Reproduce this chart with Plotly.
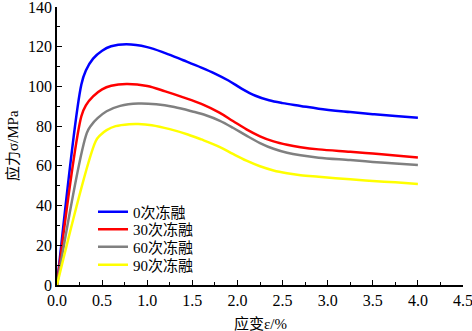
import plotly.graph_objects as go

x_blue = [0, 0.27, 0.32, 0.4, 0.5, 0.6, 0.77, 1.0, 1.2, 1.4, 1.6, 1.75, 1.9, 2.05, 2.2, 2.35, 2.5, 2.7, 2.9, 3.25, 3.5, 3.75, 4.0]
y_blue = [0, 101, 108, 114, 118, 120.2, 121.2, 119.8, 116.8, 113.2, 109.5, 106.5, 103, 98.8, 95.3, 93, 91.6, 90.2, 88.8, 87.1, 86, 85.1, 84.2]

x_red = [0, 0.27, 0.32, 0.4, 0.5, 0.6, 0.77, 1.0, 1.2, 1.4, 1.6, 1.8, 1.95, 2.1, 2.25, 2.4, 2.55, 2.7, 2.9, 3.25, 3.5, 3.75, 4.0]
y_red = [0, 85, 90.5, 95, 98.5, 100.3, 101.2, 100.2, 97.5, 94.5, 91.2, 86.8, 82.6, 78.4, 74.9, 72.3, 70.6, 69.4, 68.3, 67.1, 66.2, 65.2, 64.2]

x_gray = [0, 0.33, 0.38, 0.45, 0.55, 0.7, 0.9, 1.1, 1.3, 1.5, 1.65, 1.8, 1.95, 2.1, 2.25, 2.4, 2.55, 2.7, 2.9, 3.25, 3.5, 3.75, 4.0]
y_gray = [0, 76.5, 80.5, 84, 87.5, 90.2, 91.4, 91, 89.6, 87.4, 85.5, 82.8, 79.2, 75.2, 71.5, 68.6, 66.6, 65.3, 64.1, 62.9, 62, 61.2, 60.4]

x_yellow = [0, 0.43, 0.48, 0.55, 0.65, 0.8, 0.9, 1.05, 1.25, 1.45, 1.6, 1.8, 1.95, 2.1, 2.25, 2.4, 2.55, 2.7, 2.9, 3.25, 3.5, 3.75, 4.0]
y_yellow = [0, 72.5, 75.5, 78, 80, 81, 81.1, 80.5, 78.5, 75.8, 73.3, 69.6, 66, 62.6, 59.8, 57.7, 56.3, 55.3, 54.5, 53.2, 52.4, 51.7, 50.9]

names = ["0次冻融", "30次冻融", "60次冻融", "90次冻融"]
colors = ["#0000FF", "#FF0000", "#808080", "#FFFF00"]
series = [(x_blue, y_blue), (x_red, y_red), (x_gray, y_gray), (x_yellow, y_yellow)]

FONT = "Liberation Serif, Times New Roman, Noto Sans CJK SC, serif"

# plot-area geometry (px) used to place legend rows / titles
L, R, T, B = 57, 9, 7, 46
H = 331
plot_h = H - T - B
legend_rows_px = [212, 229.5, 247, 265]

fig = go.Figure()
legend_ids = ["legend", "legend2", "legend3", "legend4"]
for (xs, ys), name, c, lg in zip(series, names, colors, legend_ids):
    fig.add_trace(go.Scatter(x=xs, y=ys, mode="lines", name=name, legend=lg,
                             line=dict(color=c, width=2.5, shape="spline", smoothing=1.0)))

legend_layout = {}
for lg, ypx in zip(legend_ids, legend_rows_px):
    legend_layout[lg] = dict(
        x=(93 - L) / 406, y=(H - B - ypx) / plot_h, xanchor="left", yanchor="middle",
        bgcolor="rgba(0,0,0,0)", font=dict(family=FONT, size=15, color="black"),
        itemwidth=30,
    )

fig.update_layout(
    width=472, height=331,
    margin=dict(l=L, r=R, t=T, b=B),
    paper_bgcolor="white", plot_bgcolor="white",
    font=dict(family=FONT, size=16, color="black"),
    showlegend=True,
    **legend_layout,
    annotations=[
        dict(text="应变ε/%", xref="paper", yref="paper", x=0.5,
             y=(H - B - 323) / plot_h, xanchor="center", yanchor="middle",
             showarrow=False, font=dict(family=FONT, size=15, color="black")),
        dict(text="应力σ/MPa", xref="paper", yref="paper", x=(12 - L) / 406,
             y=0.5, xanchor="center", yanchor="middle", textangle=-90,
             showarrow=False, font=dict(family=FONT, size=15, color="black")),
    ],
)
fig.update_xaxes(
    range=[0, 4.5], dtick=0.5, tick0=0, tickformat=".1f", automargin=False,
    showline=True, linecolor="black", linewidth=1.5, mirror=False,
    ticks="inside", ticklen=5, tickcolor="black", tickwidth=1.2,
    minor=dict(ticks="inside", ticklen=3, dtick=0.25, tickcolor="black"),
    showgrid=False, zeroline=False, ticklabeloverflow="allow",
)
fig.update_yaxes(
    range=[0, 140], dtick=20, tick0=0, automargin=False,
    showline=True, linecolor="black", linewidth=1.5, mirror=False,
    ticks="inside", ticklen=5, tickcolor="black", tickwidth=1.2,
    minor=dict(ticks="inside", ticklen=3, dtick=10, tickcolor="black"),
    showgrid=False, zeroline=False, ticklabeloverflow="allow",
)

fig.write_html("out.html", config={"displayModeBar": False},
               post_script="document.body.style.margin='0px';document.body.style.overflow='hidden';")
